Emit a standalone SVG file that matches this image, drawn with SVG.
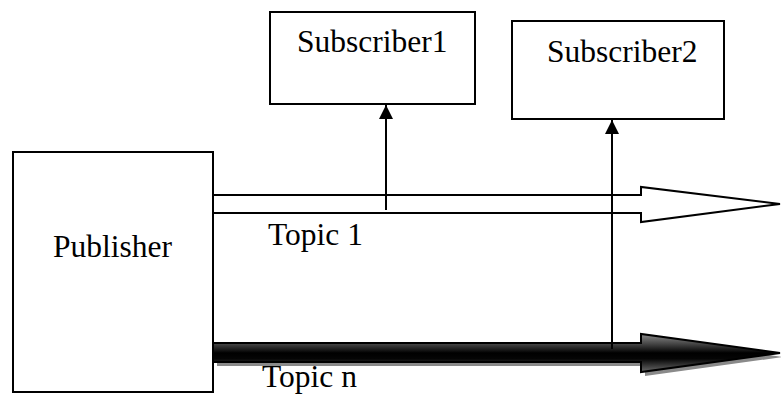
<svg xmlns="http://www.w3.org/2000/svg" width="781" height="394" viewBox="0 0 781 394">
  <style>
    .box { fill: #ffffff; stroke: #000000; stroke-width: 2; }
    .label { font-family: "Liberation Serif", "Times New Roman", serif; font-size: 31.5px; fill: #000000; }
    .link { stroke: #000000; stroke-width: 2; fill: none; }
    .hollow { fill: #ffffff; stroke: #000000; stroke-width: 2; stroke-linejoin: miter; }
    .solid { fill: url(#bevel); stroke: #000000; stroke-width: 2; stroke-linejoin: miter; }
    .shadow { fill: #8a8a8a; stroke: none; }
  </style>
  <defs>
    <linearGradient id="bevel" gradientUnits="userSpaceOnUse" x1="0" y1="334" x2="0" y2="372">
      <stop offset="0" stop-color="#8c8c8c"/>
      <stop offset="0.3" stop-color="#3a3a3a"/>
      <stop offset="0.5" stop-color="#000000"/>
      <stop offset="0.65" stop-color="#050505"/>
      <stop offset="1" stop-color="#6a6a6a"/>
    </linearGradient>
    <marker id="head" markerWidth="16" markerHeight="16" refX="14" refY="8" orient="auto" markerUnits="userSpaceOnUse">
      <path d="M0,1 L14,8 L0,15 Z" fill="#000000"/>
    </marker>
  </defs>

  <g id="publisher">
    <rect class="box" x="13" y="152" width="200" height="240"/>
    <text class="label" x="53" y="257">Publisher</text>
  </g>

  <g id="subscriber1">
    <rect class="box" x="270" y="12" width="205" height="92"/>
    <text class="label" x="297" y="52">Subscriber1</text>
  </g>

  <g id="subscriber2">
    <rect class="box" x="512" y="21" width="212" height="98"/>
    <text class="label" x="547" y="62">Subscriber2</text>
  </g>

  <g id="topic1">
    <polygon class="hollow" points="213,195 641,195 641,187 780,204 641,222 641,213 213,213"/>
    <text class="label" x="268" y="245">Topic 1</text>
  </g>

  <g id="topicn">
    <polygon class="shadow" points="217,347 645,347 645,338 783,357 645,376 645,366 217,366"/>
    <polygon class="solid" points="213,343 641,343 641,334 780,353 641,372 641,362 213,362"/>
    <text class="label" x="262" y="387">Topic n</text>
  </g>

  <g id="connectors">
    <line class="link" x1="386" y1="210" x2="386" y2="105" marker-end="url(#head)"/>
    <line class="link" x1="612" y1="349" x2="612" y2="120" marker-end="url(#head)"/>
  </g>
</svg>
